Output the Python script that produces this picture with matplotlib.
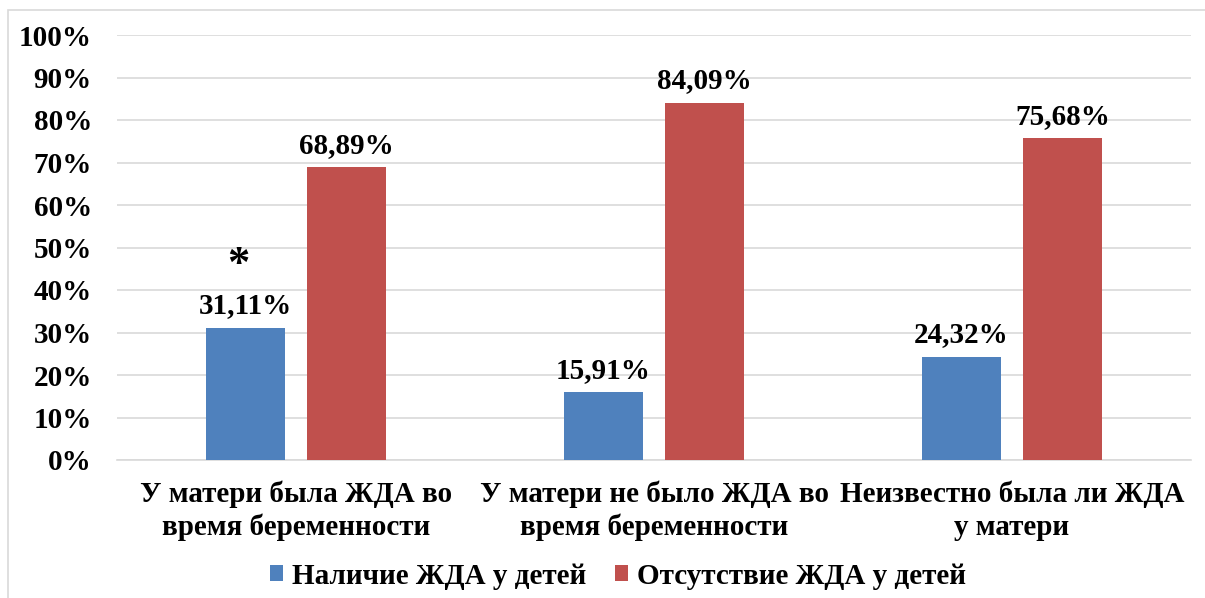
import matplotlib
matplotlib.use("Agg")
import matplotlib.pyplot as plt
import numpy as np
from matplotlib.patches import Rectangle

categories = ["У матери была ЖДА во\nвремя беременности",
              "У матери не было ЖДА во\nвремя беременности",
              "Неизвестно была ли ЖДА\nу матери"]
series_names = ["Наличие ЖДА у детей", "Отсутствие ЖДА у детей"]
present = [31.11, 15.91, 24.32]
absent = [68.89, 84.09, 75.68]
labels_present = ["31,11%", "15,91%", "24,32%"]
labels_absent = ["68,89%", "84,09%", "75,68%"]
yticks = [0, 10, 20, 30, 40, 50, 60, 70, 80, 90, 100]
ytick_labels = [f"{v}%" for v in yticks]

BLUE = "#4f81bd"
RED = "#c0504d"
GRID = "#d9d9d9"
FONT = "Liberation Serif"
FS = 21

fig = plt.figure(figsize=(12.05, 5.98), dpi=100)
W, H = 1205, 598
# outer chart border (partially visible)
fig.patches.append(Rectangle((8 / W, -0.1), 1.2, 1 - 10 / H + 0.1, transform=fig.transFigure,
                             fill=False, edgecolor=GRID, linewidth=1.2))

ax = fig.add_axes([117 / W, 1 - 460 / H, (1191 - 117) / W, (460 - 35) / H])
x = np.arange(len(categories))
bw = 0.223
off = 0.141
b1 = ax.bar(x - off, present, bw, color=BLUE, label=series_names[0], zorder=3)
b2 = ax.bar(x + off, absent, bw, color=RED, label=series_names[1], zorder=3)

for rect, lab in zip(b1, labels_present):
    ax.annotate(lab, (rect.get_x() + rect.get_width() / 2, rect.get_height()),
                xytext=(0, 6), textcoords="offset points", ha="center", va="bottom",
                fontsize=FS, fontweight="bold", family=FONT)
for rect, lab in zip(b2, labels_absent):
    ax.annotate(lab, (rect.get_x() + rect.get_width() / 2, rect.get_height()),
                xytext=(0, 6), textcoords="offset points", ha="center", va="bottom",
                fontsize=FS, fontweight="bold", family=FONT)

# significance asterisk above first blue bar
r0 = b1[0]
ax.annotate("*", (r0.get_x() + r0.get_width() / 2, r0.get_height()),
            xytext=(-5, 31), textcoords="offset points", ha="center", va="bottom",
            fontsize=32, fontweight="bold", family=FONT)

ax.set_xlim(-0.5, 2.5)
ax.set_ylim(0, 100)
ax.set_yticks(yticks)
ax.set_yticklabels(ytick_labels, fontsize=FS, fontweight="bold", family=FONT)
ax.set_xticks(x)
ax.set_xticklabels(categories, fontsize=FS, fontweight="bold", family=FONT, linespacing=1.25)
ax.tick_params(axis="both", length=0)
ax.tick_params(axis="y", pad=18)
ax.tick_params(axis="x", pad=15)
ax.grid(axis="y", color=GRID, linewidth=1.2, zorder=0)
for s in ["top", "right", "left"]:
    ax.spines[s].set_visible(False)
ax.spines["bottom"].set_color(GRID)
ax.spines["bottom"].set_linewidth(1.2)

fig.legend(handles=[b1, b2], labels=series_names, loc="center", bbox_to_anchor=(618 / W, 1 - 576 / H),
           ncol=2, frameon=False, prop={"family": FONT, "weight": "bold", "size": FS},
           handlelength=0.45, handleheight=0.45, handletextpad=0.3, columnspacing=1.0)

fig.savefig("out.png", dpi=100)
